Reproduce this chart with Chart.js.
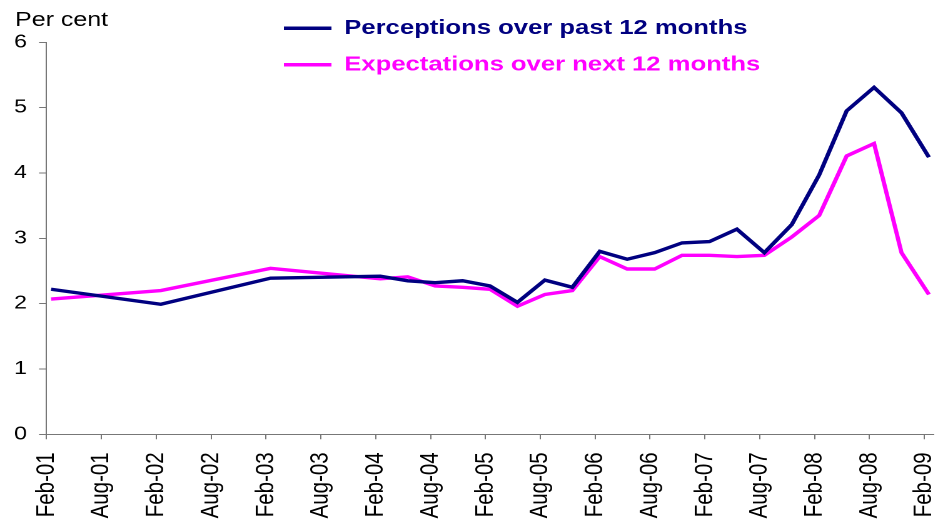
<!DOCTYPE html>
<html>
<head>
<meta charset="utf-8">
<script src="https://cdn.jsdelivr.net/npm/chart.js@4"></script>
<style>
html,body{margin:0;padding:0;background:#fff;overflow:hidden}
</style>
</head>
<body>
<canvas id="c" width="750" height="524" style="display:block;width:938px;height:524px"></canvas>
<script>
// ---- data ----
const pointDates = ['Feb-01','Feb-02','Feb-03','Feb-04','May-04','Aug-04','Nov-04','Feb-05','May-05','Aug-05','Nov-05','Feb-06','May-06','Aug-06','Nov-06','Feb-07','May-07','Aug-07','Nov-07','Feb-08','May-08','Aug-08','Nov-08','Feb-09'];
const perceptions = [2.22,1.99,2.39,2.42,2.35,2.32,2.35,2.27,2.02,2.36,2.25,2.80,2.68,2.78,2.93,2.95,3.14,2.78,3.21,3.97,4.95,5.31,4.92,4.24];
const expectations = [2.07,2.20,2.54,2.38,2.41,2.27,2.25,2.22,1.96,2.14,2.20,2.72,2.53,2.53,2.74,2.74,2.72,2.74,3.02,3.35,4.26,4.45,2.78,2.14];
const tickLabels = ['Feb-01','Aug-01','Feb-02','Aug-02','Feb-03','Aug-03','Feb-04','Aug-04','Feb-05','Aug-05','Feb-06','Aug-06','Feb-07','Aug-07','Feb-08','Aug-08','Feb-09'];
const seriesNames = ['Perceptions over past 12 months','Expectations over next 12 months'];
const yAxisLabel = 'Per cent';
const yTicks = [0,1,2,3,4,5,6];

const MONTHS = {Jan:1,Feb:2,Mar:3,Apr:4,May:5,Jun:6,Jul:7,Aug:8,Sep:9,Oct:10,Nov:11,Dec:12};
function monthIndex(lbl){
  const parts = lbl.split('-');
  return (2000 + Number(parts[1]) - 2001) * 12 + MONTHS[parts[0]] - 2;
}
function toPoints(vals){
  return pointDates.map((d,i)=>({x: monthIndex(d) + 0.5, y: vals[i]}));
}

const FONT = '"Liberation Sans", Arial, sans-serif';
const NAVY = '#000080';
const MAGENTA = '#FF00FF';
const AXIS = '#777777';

const placeLegend = {
  id: 'placeLegend',
  afterLayout(chart){
    const lg = chart.legend;
    if (!lg) return;
    lg.left = 211;
    lg.top = 2;
    lg.right = 750;
    lg.bottom = 95;
  }
};
const unitLabel = {
  id: 'unitLabel',
  afterDraw(chart){
    const ctx = chart.ctx;
    ctx.save();
    ctx.font = '20px ' + FONT;
    ctx.fillStyle = '#000';
    ctx.textAlign = 'left';
    ctx.textBaseline = 'alphabetic';
    ctx.fillText(yAxisLabel, 12, 26);
    ctx.restore();
  }
};

new Chart(document.getElementById('c'), {
  type: 'line',
  data: {
    datasets: [
      {label: seriesNames[0], data: toPoints(perceptions), borderColor: NAVY, backgroundColor: NAVY, borderWidth: 3.4, pointRadius: 0, tension: 0, fill: false},
      {label: seriesNames[1], data: toPoints(expectations), borderColor: MAGENTA, backgroundColor: MAGENTA, borderWidth: 3.4, pointRadius: 0, tension: 0, fill: false}
    ]
  },
  options: {
    responsive: false,
    animation: false,
    devicePixelRatio: 2,
    layout: {padding: {left: 0, right: 3.6, top: 0, bottom: 0}},
    plugins: {
      tooltip: {enabled: false},
      legend: {
        position: 'top',
        align: 'start',
        maxHeight: 42.3,
        labels: {
          usePointStyle: true,
          pointStyle: 'line',
          pointStyleWidth: 38,
          padding: 16,
          font: {family: FONT, size: 20.5, weight: 'bold'},
          generateLabels(chart){
            const items = Chart.defaults.plugins.legend.labels.generateLabels(chart);
            items.forEach(it => { it.fontColor = it.strokeStyle; });
            return items;
          }
        }
      }
    },
    scales: {
      x: {
        type: 'linear',
        min: 0,
        max: 97,
        afterBuildTicks(s){ s.ticks = tickLabels.map(l => ({value: monthIndex(l)})); },
        afterFit(s){ s.height = 89.7; s.paddingLeft = 0; s.paddingRight = 0; },
        grid: {drawOnChartArea: false, drawTicks: true, tickLength: 5, color: AXIS},
        border: {color: AXIS, width: 1},
        ticks: {
          autoSkip: false, minRotation: 90, maxRotation: 90, padding: 13,
          color: '#000', font: {family: FONT, size: 20.5},
          callback: (v, i) => tickLabels[i]
        }
      },
      y: {
        min: 0,
        max: 6,
        afterBuildTicks(s){ s.ticks = yTicks.map(v => ({value: v})); },
        afterFit(s){ s.width = 37.2; s.paddingTop = 0; s.paddingBottom = 0; },
        grid: {drawOnChartArea: false, drawTicks: true, tickLength: 6, color: AXIS},
        border: {color: AXIS, width: 1},
        ticks: {padding: 9.6, color: '#000', font: {family: FONT, size: 18.5}}
      }
    }
  },
  plugins: [placeLegend, unitLabel]
});
</script>
</body>
</html>
